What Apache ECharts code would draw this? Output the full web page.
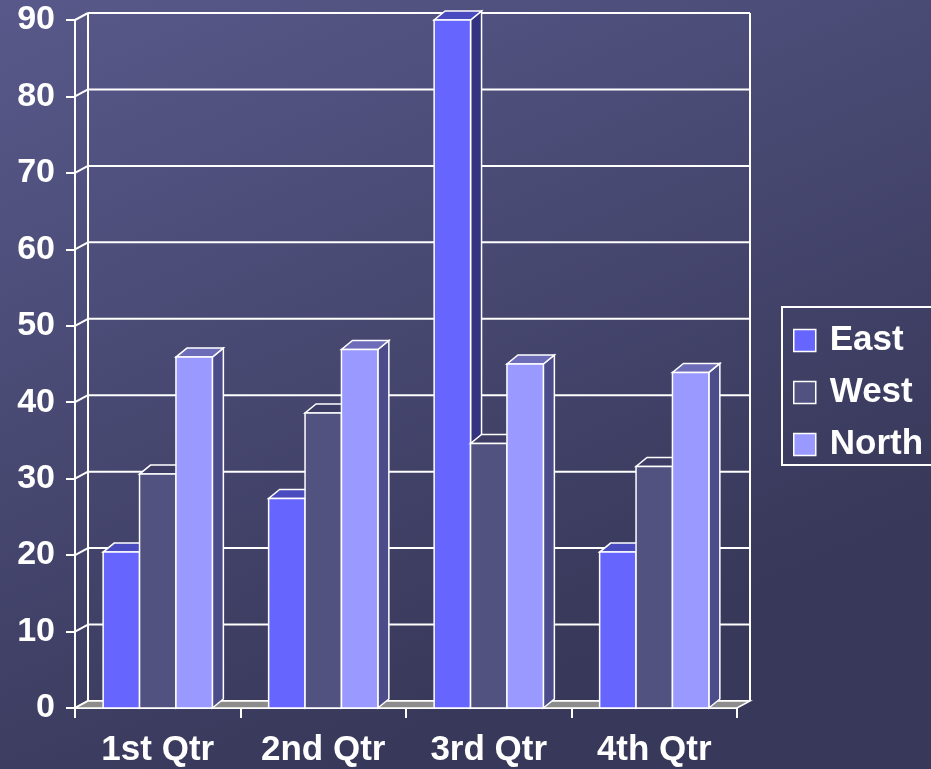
<!DOCTYPE html>
<html>
<head>
<meta charset="utf-8">
<script src="https://cdn.jsdelivr.net/npm/echarts@6/dist/echarts.min.js"></script>
<style>
  html, body { margin: 0; padding: 0; }
  #chart { width: 931px; height: 769px; }
</style>
</head>
<body>
<div id="chart"></div>
<script>
// data
var categories = ['1st Qtr', '2nd Qtr', '3rd Qtr', '4th Qtr'];
var seriesNames = ['East', 'West', 'North'];
var east = [20.4, 27.4, 90, 20.4];
var west = [30.6, 38.6, 34.6, 31.6];
var north = [45.9, 46.9, 45, 43.9];
var yTicks = [0, 10, 20, 30, 40, 50, 60, 70, 80, 90];

// faces: front, top, side
var faceColors = [
  ['#6666ff', '#4b4bc0', '#33337f'],
  ['#525280', '#3d3d66', '#3a3a60'],
  ['#9999ff', '#6c6cb8', '#4c4c8a']
];
var WALL_DX = 13, WALL_DY = -7;
var BAR_DX = 11, BAR_DY = -9;
var font = '"Liberation Sans", Arial, sans-serif';

var chart = echarts.init(document.getElementById('chart'));

function renderFrame(params, api) {
  var cs = params.coordSys;
  var x0 = cs.x, x1 = cs.x + cs.width;
  var yb = api.coord([0, 0])[1];
  var yt = api.coord([0, yTicks[yTicks.length - 1]])[1];
  var line = { stroke: '#fff', lineWidth: 2 };
  var children = [];
  yTicks.forEach(function (v) {
    var y = api.coord([0, v])[1];
    // back wall gridline
    children.push({ type: 'line', shape: { x1: x0 + WALL_DX, y1: y + WALL_DY, x2: x1 + WALL_DX, y2: y + WALL_DY }, style: line });
    // side wall diagonal
    children.push({ type: 'line', shape: { x1: x0, y1: y, x2: x0 + WALL_DX, y2: y + WALL_DY }, style: line });
  });
  children.push({ type: 'line', shape: { x1: x0 + WALL_DX, y1: yt + WALL_DY, x2: x0 + WALL_DX, y2: yb + WALL_DY }, style: line });
  children.push({ type: 'line', shape: { x1: x1 + WALL_DX, y1: yt + WALL_DY, x2: x1 + WALL_DX, y2: yb + WALL_DY }, style: line });
  // floor
  children.push({
    type: 'polygon',
    shape: { points: [[x0, yb], [x1, yb], [x1 + WALL_DX, yb + WALL_DY], [x0 + WALL_DX, yb + WALL_DY]] },
    style: { fill: '#8c8c8c', stroke: '#fff', lineWidth: 1.5 }
  });
  return { type: 'group', children: children };
}

function makeBarRenderer(si) {
  return function (params, api) {
    var ci = api.value(0);
    var val = api.value(1);
    var band = api.size([1, 0])[0];
    var w = band * 0.22;
    var base = api.coord([ci, 0]);
    var top = api.coord([ci, val]);
    var xl = base[0] - 1.5 * w + si * w;
    var xr = xl + w;
    var yb = base[1], yt = top[1];
    var c = faceColors[si];
    var st = { stroke: '#fff', lineWidth: 1.5 };
    return {
      type: 'group',
      children: [
        { type: 'polygon', shape: { points: [[xr, yt], [xr + BAR_DX, yt + BAR_DY], [xr + BAR_DX, yb + BAR_DY], [xr, yb]] },
          style: Object.assign({ fill: c[2] }, st) },
        { type: 'polygon', shape: { points: [[xl, yt], [xr, yt], [xr + BAR_DX, yt + BAR_DY], [xl + BAR_DX, yt + BAR_DY]] },
          style: Object.assign({ fill: c[1] }, st) },
        { type: 'rect', shape: { x: xl, y: yt, width: w, height: yb - yt },
          style: Object.assign({ fill: c[0] }, st) }
      ]
    };
  };
}

var values = [east, west, north];
var series = [{
  type: 'custom',
  name: 'frame',
  renderItem: renderFrame,
  data: [[0, 0]],
  clip: false,
  silent: true,
  z: 1
}];
values.forEach(function (arr, si) {
  series.push({
    type: 'custom',
    name: seriesNames[si],
    renderItem: makeBarRenderer(si),
    data: arr.map(function (v, i) { return [i, v]; }),
    encode: { x: 0, y: 1 },
    clip: false,
    itemStyle: { color: faceColors[si][0], borderColor: '#fff', borderWidth: 1.5 },
    z: 2
  });
});

var option = {
  animation: false,
  backgroundColor: {
    type: 'linear', x: 0, y: 0, x2: 0.35, y2: 1,
    colorStops: [{ offset: 0, color: '#58598a' }, { offset: 1, color: '#38385a' }]
  },
  grid: { left: 75, top: 20, width: 662, height: 688 },
  legend: {
    data: seriesNames.map(function (n, i) {
      return { name: n, icon: 'rect', itemStyle: { color: faceColors[i][0], borderColor: '#fff', borderWidth: 1.5 } };
    }),
    orient: 'vertical',
    left: 782,
    top: 307,
    padding: [16, 30, 3, 11],
    itemWidth: 22,
    itemHeight: 22,
    itemGap: 17,
    borderColor: '#fff',
    borderWidth: 2,
    selectedMode: false,
    textStyle: { color: '#fff', fontSize: 35, fontWeight: 'bold', fontFamily: font, lineHeight: 35, padding: [0, 0, 0, 9] }
  },
  xAxis: {
    type: 'category',
    data: categories,
    axisLine: { lineStyle: { color: '#fff', width: 2 } },
    axisTick: { show: true, length: 10, lineStyle: { color: '#fff', width: 2 } },
    axisLabel: { color: '#fff', fontSize: 35, fontWeight: 'bold', fontFamily: font, margin: 25 },
    splitLine: { show: false }
  },
  yAxis: {
    type: 'value',
    min: 0,
    max: 90,
    interval: 10,
    axisLine: { show: true, lineStyle: { color: '#fff', width: 2 } },
    axisTick: { show: true, length: 9, lineStyle: { color: '#fff', width: 2 } },
    axisLabel: { color: '#fff', fontSize: 34, fontWeight: 'bold', fontFamily: font, margin: 20 },
    splitLine: { show: false }
  },
  series: series
};

chart.setOption(option);
</script>
</body>
</html>
